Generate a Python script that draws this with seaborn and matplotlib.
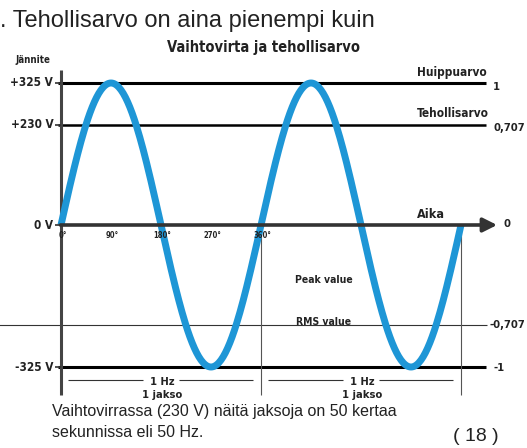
import numpy as np
import pandas as pd
import seaborn as sns
import matplotlib.pyplot as plt

# values of the diagram
peak_v = 325
rms_v = 230
degrees = np.arange(0, 721, 2)
volt_ticks = [325, 230, 0, -325]
volt_labels = ["+325 V", "+230 V", "0 V", "-325 V"]
ratio_ticks = [325, 230, 0, -230, -325]
ratio_labels = ["1", "0,707", "0", "-0,707", "-1"]
angle_ticks = [0, 90, 180, 270, 360]
angle_labels = ["0°", "90°", "180°", "270°", "360°"]
period_starts = [0, 360]

df = pd.DataFrame({"deg": degrees, "volt": peak_v * np.sin(np.radians(degrees))})

sns.set_theme(style="white")
plt.rcParams["font.family"] = ["DejaVu Sans"]
narrow = dict(family=["Liberation Sans Narrow", "DejaVu Sans"], fontstretch="condensed",
              fontweight="bold", color="#222222")
arial = ["Liberation Sans", "DejaVu Sans"]

fig = plt.figure(figsize=(5.27, 4.48), dpi=100)
ax = fig.add_axes([0, 0, 1, 1])
# pixel mapping: 0 deg -> x 61px, 720 deg -> 461px ; 0 V -> y 225px, 325 V -> 83px
ax.set_xlim(-61 * 1.8, (527 - 61) * 1.8)
ax.set_ylim(-(448 - 225) * 325 / 142, 225 * 325 / 142)
ax.axis("off")

# horizontal reference lines
ax.hlines([peak_v, -peak_v], -5, 765, color="black", lw=2.2)
ax.hlines(rms_v, -5, 765, color="black", lw=1.8)
ax.hlines(-rms_v, -115, 766, color="#333333", lw=0.8)
# verticals
ax.vlines(0, -389, 355, color="#444444", lw=2.2)
ax.vlines([360, 720], -389, 0, color="#555555", lw=0.8)

sns.lineplot(data=df, x="deg", y="volt", ax=ax, color="#1e96d6", lw=5, legend=False,
             solid_capstyle="butt")

# time axis arrow
ax.annotate("", xy=(790, 0), xytext=(-6, 0),
            arrowprops=dict(arrowstyle="-|>,head_length=0.7,head_width=0.35", color="#333333", lw=2.6))

# left tick labels
for v, lab in zip(volt_ticks, volt_labels):
    ax.hlines(v, -11, 0, color="#333333", lw=1.2)
    ax.text(-14, v, lab, ha="right", va="center", fontsize=8.5, **narrow)
# right ratio labels
right_pos = {"1": (778, 316), "0,707": (836, 222), "0": (797, 3),
             "-0,707": (836, -229), "-1": (778, -327)}
for v, lab in zip(ratio_ticks, ratio_labels):
    x0, y0 = right_pos[lab]
    ha = "right" if "707" in lab else "left"
    ax.text(x0, y0, lab, ha=ha, va="center", fontsize=8, **narrow)
# angle labels
for a, lab in zip(angle_ticks, angle_labels):
    ax.text(a + 3, -25, lab, ha="center", va="center", fontsize=5.5, **narrow)

ax.text(-20, 377, "Jännite", ha="right", va="center", fontsize=7, **narrow)
ax.text(704, 348, "Huippuarvo", ha="center", va="center", fontsize=8.5, **narrow)
ax.text(705, 256, "Tehollisarvo", ha="center", va="center", fontsize=8.5, **narrow)
ax.text(666, 23, "Aika", ha="center", va="center", fontsize=9, **narrow)
ax.text(473, -126, "Peak value", ha="center", va="center", fontsize=7.5, **narrow)
ax.text(473, -222, "RMS value", ha="center", va="center", fontsize=7.5, **narrow)
ax.text(364, 407, "Vaihtovirta ja tehollisarvo", ha="center", va="center", fontsize=10.5, **narrow)

# period brackets
for s in period_starts:
    ax.hlines(-355, s + 13, s + 148, color="#333333", lw=0.8)
    ax.hlines(-355, s + 212, s + 345, color="#333333", lw=0.8)
    ax.text(s + 182, -359, "1 Hz", ha="center", va="center", fontsize=8, **narrow)
    ax.text(s + 182, -389, "1 jakso", ha="center", va="center", fontsize=8, **narrow)

# page text
ax.text(-110, 453, ". Tehollisarvo on aina pienempi kuin", ha="left", va="baseline",
        fontsize=17, family=arial, color="#222222")
ax.text(-16, -426, "Vaihtovirrassa (230 V) näitä jaksoja on 50 kertaa", ha="left", va="center",
        fontsize=11.5, family=arial, color="#222222")
ax.text(-16, -476, "sekunnissa eli 50 Hz.", ha="left", va="center",
        fontsize=11.5, family=arial, color="#222222")
ax.text(747, -485, "( 18 )", ha="center", va="center",
        fontsize=14, family=arial, color="#222222")

fig.savefig("out.png", dpi=100)
